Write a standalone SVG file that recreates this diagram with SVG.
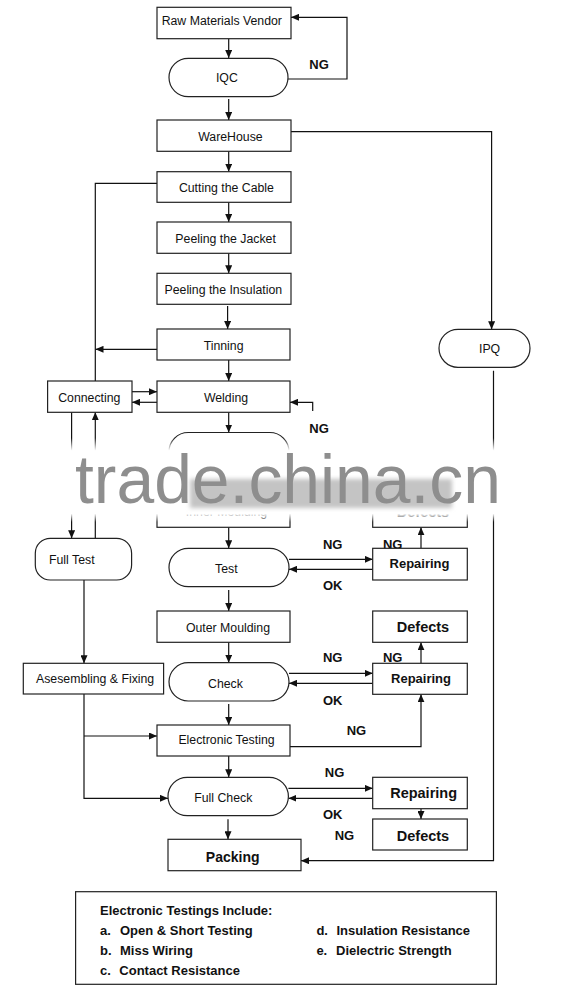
<svg xmlns="http://www.w3.org/2000/svg" width="568" height="1000" viewBox="0 0 568 1000">
<style>
.box{fill:#fff;stroke:#222;stroke-width:1.2}
.t{font-family:"Liberation Sans",Arial,sans-serif;font-size:12.3px;fill:#111;text-anchor:middle}
.b{font-family:"Liberation Sans",Arial,sans-serif;font-size:13px;font-weight:bold;fill:#111;text-anchor:middle}
.bl{font-size:14.5px}
.lg{font-family:"Liberation Sans",Arial,sans-serif;font-size:13px;font-weight:bold;fill:#111}
.c{fill:none;stroke:#111;stroke-width:1.2}
.a{marker-end:url(#ah)}
</style>
<defs>
<marker id="ah" markerUnits="userSpaceOnUse" markerWidth="8" markerHeight="7" refX="8" refY="3.5" orient="auto">
<path d="M0,0 L8,3.5 L0,7 z" fill="#111"/>
</marker>
<linearGradient id="band" x1="0" y1="0" x2="0" y2="1">
<stop offset="0" stop-color="#fff" stop-opacity="0"/>
<stop offset="0.15" stop-color="#fff" stop-opacity="1"/>
<stop offset="0.9" stop-color="#fff" stop-opacity="1"/>
<stop offset="1" stop-color="#fff" stop-opacity="0"/>
</linearGradient>
<filter id="blur" x="-10%" y="-30%" width="120%" height="160%"><feGaussianBlur stdDeviation="2"/></filter>
</defs>
<rect width="568" height="1000" fill="#fff"/>

<g id="connectors">
<path class="c a" d="M228.7,39 V58"/>
<path class="c a" d="M288,79 H347 V17.3 H291"/>
<path class="c a" d="M228.7,99 V120"/>
<path class="c a" d="M291,131.7 H491.6 V329.3"/>
<path class="c a" d="M228.7,151.3 V171.7"/>
<path class="c a" d="M228.7,202.3 V222"/>
<path class="c a" d="M228.7,253.3 V273.3"/>
<path class="c" d="M157,183.3 H95.3 V381"/>
<path class="c a" d="M227.6,306 V329"/>
<path class="c a" d="M157,349.3 H95.5"/>
<path class="c a" d="M228.7,360 V381"/>
<path class="c a" d="M132,391.7 H157"/>
<path class="c a" d="M157,402.3 H132"/>
<path class="c a" d="M228.7,412.3 V432.5"/>
<path class="c a" d="M312.7,411 V402.3 H290"/>
<path class="c a" d="M71.6,412.3 V538.3"/>
<path class="c a" d="M95.3,538.3 V412.3"/>
<path class="c a" d="M228.7,471 V496"/>
<path class="c a" d="M228.7,527.3 V548.3"/>
<path class="c a" d="M289,559.3 H372.7"/>
<path class="c a" d="M372.7,569.3 H289"/>
<path class="c a" d="M421,548.3 V527.3"/>
<path class="c a" d="M228.7,590 V611"/>
<path class="c a" d="M228.7,642.3 V662.7"/>
<path class="c a" d="M289,673.3 H372.7"/>
<path class="c a" d="M372.7,683.3 H289"/>
<path class="c a" d="M421,663.3 V642.3"/>
<path class="c a" d="M228.7,704 V725"/>
<path class="c a" d="M290,746.7 H421 V694.3"/>
<path class="c a" d="M84,580 V663.3"/>
<path class="c a" d="M84,694 V798.3 H168"/>
<path class="c a" d="M84,736 H157"/>
<path class="c a" d="M228.7,756 V777.3"/>
<path class="c a" d="M288.4,788.3 H372.7"/>
<path class="c a" d="M372.7,798.3 H288.4"/>
<path class="c a" d="M421,808.7 V819"/>
<path class="c a" d="M228,819.3 V839.3"/>
<path class="c a" d="M493.5,370.7 V860.7 H301"/>
</g>

<g id="labels">
<text class="b" x="319" y="68.9">NG</text>
<text class="b" x="319" y="432.6">NG</text>
<text class="b" x="332.7" y="548.6">NG</text>
<text class="b" x="392.7" y="548.6">NG</text>
<text class="b" x="332.7" y="589.6">OK</text>
<text class="b" x="332.7" y="662.3">NG</text>
<text class="b" x="392.7" y="662.3">NG</text>
<text class="b" x="332.7" y="704.6">OK</text>
<text class="b" x="356.4" y="735.3">NG</text>
<text class="b" x="334.5" y="776.9">NG</text>
<text class="b" x="332.7" y="818.6">OK</text>
<text class="b" x="344.4" y="840.3">NG</text>
</g>

<g id="raw-materials-vendor"><rect class="box" x="157" y="7.3" width="134" height="31.4"/><text class="t" x="221.8" y="25.1">Raw Materials Vendor</text></g>
<g id="iqc"><rect class="box" x="169" y="58.3" width="119" height="38.4" rx="19.2"/><text class="t" x="226.9" y="82">IQC</text></g>
<g id="warehouse"><rect class="box" x="157" y="120" width="134" height="31.3"/><text class="t" x="230.4" y="141.1">WareHouse</text></g>
<g id="cutting"><rect class="box" x="157" y="171.7" width="134" height="30.6"/><text class="t" x="226.4" y="191.7">Cutting the Cable</text></g>
<g id="peeling-jacket"><rect class="box" x="157" y="222" width="134" height="31.3"/><text class="t" x="225.6" y="243.1">Peeling the Jacket</text></g>
<g id="peeling-insulation"><rect class="box" x="157" y="273.3" width="134" height="31"/><text class="t" x="223.3" y="293.7">Peeling the Insulation</text></g>
<g id="tinning"><rect class="box" x="157" y="329" width="133" height="31"/><text class="t" x="223.6" y="350.1">Tinning</text></g>
<g id="welding"><rect class="box" x="157" y="381" width="133" height="31.3"/><text class="t" x="226" y="402.1">Welding</text></g>
<g id="connecting"><rect class="box" x="47.6" y="381" width="84.4" height="31.3"/><text class="t" x="89.3" y="402.1">Connecting</text></g>
<g id="ipq"><rect class="box" x="439" y="329.3" width="91" height="38" rx="19"/><text class="t" x="489.6" y="353.1">IPQ</text></g>
<g id="check-hidden"><rect class="box" x="169" y="432.5" width="120" height="38.5" rx="19.2"/></g>
<g id="inner-moulding"><rect class="box" x="157" y="496" width="133" height="31.3"/><text class="t" x="226.5" y="516">Inner Moulding</text></g>
<g id="defects-1"><rect class="box" x="372.7" y="496" width="94.6" height="31.3"/><text class="b bl" x="423" y="516.5">Defects</text></g>
<g id="full-test"><rect class="box" x="35.3" y="538.3" width="96.3" height="41.7" rx="15"/><text class="t" x="71.8" y="563.7">Full Test</text></g>
<g id="test"><rect class="box" x="169" y="548.3" width="120" height="38.4" rx="19.2"/><text class="t" x="226.4" y="572.7">Test</text></g>
<g id="repairing-1"><rect class="box" x="372.7" y="548.3" width="94.6" height="31.7"/><text class="b" x="419.5" y="567.9">Repairing</text></g>
<g id="outer-moulding"><rect class="box" x="157" y="611" width="133" height="31.3"/><text class="t" x="228" y="631.7">Outer Moulding</text></g>
<g id="defects-2"><rect class="box" x="372.7" y="611" width="94.6" height="31.3"/><text class="b bl" x="423" y="631.7">Defects</text></g>
<g id="check"><rect class="box" x="169" y="662.7" width="120" height="38.3" rx="19.2"/><text class="t" x="225.5" y="687.7">Check</text></g>
<g id="repairing-2"><rect class="box" x="372.7" y="663.3" width="94.6" height="31"/><text class="b" x="421" y="682.9">Repairing</text></g>
<g id="assembling"><rect class="box" x="23.3" y="663.3" width="140.3" height="30.7"/><text class="t" x="95.1" y="683.4">Asesembling &amp; Fixing</text></g>
<g id="electronic-testing"><rect class="box" x="157" y="725" width="133" height="31"/><text class="t" x="226.5" y="744.4">Electronic Testing</text></g>
<g id="full-check"><rect class="box" x="168" y="777.3" width="120.4" height="38.4" rx="19.2"/><text class="t" x="223.3" y="802.1">Full Check</text></g>
<g id="repairing-3"><rect class="box" x="372.7" y="777.3" width="94.6" height="31.4"/><text class="b bl" x="423.6" y="798.3">Repairing</text></g>
<g id="defects-3"><rect class="box" x="372.7" y="819" width="94.6" height="31"/><text class="b bl" x="423" y="840.7">Defects</text></g>
<g id="packing"><rect class="box" x="168" y="839.3" width="133" height="31.4"/><text class="b" style="font-size:14px" x="232.7" y="861.7">Packing</text></g>

<g id="watermark">
<rect x="55" y="438" width="462" height="84" fill="url(#band)"/>
<rect x="190" y="479" width="262" height="29" fill="#c4c4c4" filter="url(#blur)"/>
<text x="75" y="503" font-family="Liberation Sans, Arial, sans-serif" font-size="68" fill="#8e8e8e" textLength="426" lengthAdjust="spacingAndGlyphs">trade.china.cn</text>
</g>

<g id="legend">
<rect class="box" x="75.6" y="891.7" width="420.8" height="92.6"/>
<text class="lg" x="100" y="914.6">Electronic Testings Include:</text>
<text class="lg" x="100" y="934.6">a.</text><text class="lg" x="120" y="934.6">Open &amp; Short Testing</text>
<text class="lg" x="100" y="954.6">b.</text><text class="lg" x="120" y="954.6">Miss Wiring</text>
<text class="lg" x="100" y="974.6">c.</text><text class="lg" x="119.3" y="974.6">Contact Resistance</text>
<text class="lg" x="316.4" y="934.6">d.</text><text class="lg" x="336.4" y="934.6">Insulation Resistance</text>
<text class="lg" x="316.4" y="954.6">e.</text><text class="lg" x="336" y="954.6">Dielectric Strength</text>
</g>
</svg>
